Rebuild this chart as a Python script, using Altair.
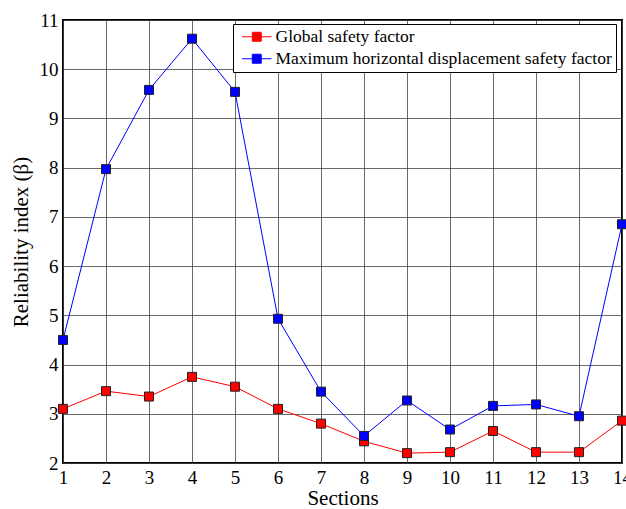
import altair as alt
import pandas as pd

sections = list(range(1, 15))
global_sf = [3.10, 3.46, 3.35, 3.75, 3.55, 3.10, 2.80, 2.44, 2.20, 2.22, 2.65, 2.22, 2.22, 2.86]
max_disp_sf = [4.50, 7.97, 9.58, 10.62, 9.54, 4.93, 3.45, 2.55, 3.27, 2.68, 3.16, 3.19, 2.95, 6.85]
series_names = ["Global safety factor", "Maximum horizontal displacement safety factor"]
series_colors = ["#ff0000", "#0000ff"]

rows = []
for s, a, b in zip(sections, global_sf, max_disp_sf):
    rows.append({"Section": s, "Series": series_names[0], "Value": a})
    rows.append({"Section": s, "Series": series_names[1], "Value": b})
df = pd.DataFrame(rows)

FONT = "Liberation Serif"

chart = alt.Chart(df).mark_line(
    strokeWidth=1,
    point=alt.OverlayMarkDef(shape="square", filled=True, size=81, stroke="#222222", strokeWidth=1, opacity=1),
).encode(
    x=alt.X("Section:Q", scale=alt.Scale(domain=[1, 14], nice=False),
            axis=alt.Axis(title="Sections", values=sections, format="d",
                          labelFontSize=19, titleFontSize=21, titlePadding=0,
                          labelPadding=5, tickSize=0, labelFlush=False)),
    y=alt.Y("Value:Q", scale=alt.Scale(domain=[2, 11], nice=False, zero=False),
            axis=alt.Axis(title="Reliability index (β)", values=list(range(2, 12)),
                          labelFontSize=19, titleFontSize=21, titlePadding=8,
                          labelPadding=5, tickSize=0)),
    color=alt.Color("Series:N",
                    scale=alt.Scale(domain=series_names, range=series_colors),
                    legend=alt.Legend(title=None, orient="none", legendX=170, legendY=4,
                                      symbolType="M-2.1,0H2.1M-0.64,-0.64H0.64V0.64H-0.64Z",
                                      symbolSize=196, symbolStrokeWidth=1,
                                      labelFontSize=17.5, labelFont=FONT, labelLimit=0,
                                      labelColor="black",
                                      strokeColor="black", fillColor="white",
                                      padding=4, rowPadding=3, labelOffset=10,
                                      symbolOffset=11)),
).properties(
    width=559, height=443,
    background="white",
    autosize=alt.AutoSizeParams(type="none"),
    padding={"left": 63, "top": 20, "right": 4, "bottom": 46},
).configure_axis(
    labelFont=FONT, titleFont=FONT, labelColor="black", titleColor="black",
    titleFontWeight="normal", grid=True, gridColor="#444444", gridWidth=0.8,
    gridOpacity=1, domain=False,
).configure_view(
    stroke="black", strokeWidth=2,
)

chart.save("out.html", embed_options={"renderer": "svg", "actions": False})
